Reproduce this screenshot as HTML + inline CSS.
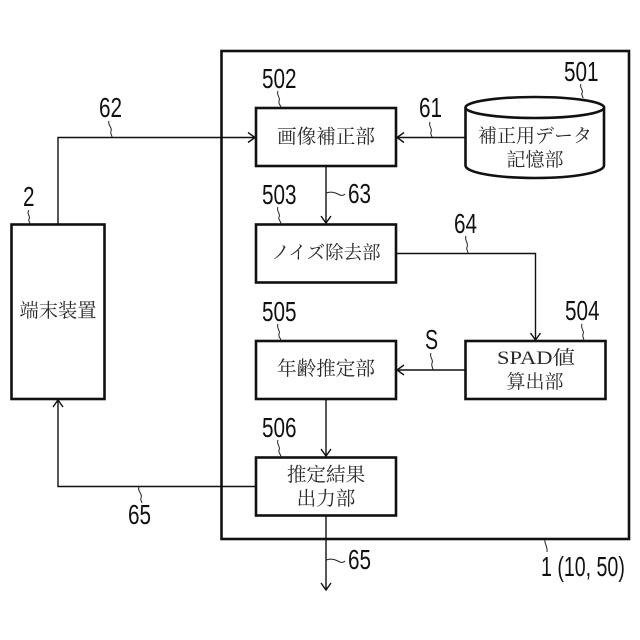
<!DOCTYPE html>
<html><head><meta charset="utf-8">
<style>
html,body{margin:0;padding:0;background:#fff}
svg{display:block}
.j{font-family:"Liberation Serif","Noto Serif CJK SC","Noto Serif CJK JP",serif;font-size:19px;fill:#2a2a2a;text-anchor:middle}
.n{font-family:"Liberation Sans",sans-serif;font-size:28px;fill:#111}
.b{fill:#fff;stroke:#111;stroke-width:2.6}
.l{fill:none;stroke:#111;stroke-width:1.4}
.w{fill:none;stroke:#222;stroke-width:1}
.a{fill:none;stroke:#111;stroke-width:1.4}
</style></head><body>
<svg width="640" height="640" viewBox="0 0 640 640" xmlns="http://www.w3.org/2000/svg">
<rect x="221.500" y="51" width="407.500" height="488" fill="#fff" stroke="#111" stroke-width="2.600"/>
<rect class="b" x="256" y="108" width="140" height="58"/>
<rect class="b" x="256" y="224.500" width="140" height="58"/>
<rect class="b" x="256" y="341" width="140" height="58"/>
<rect class="b" x="256" y="457.500" width="140" height="58"/>
<rect class="b" x="465.500" y="341" width="140" height="58"/>
<rect class="b" x="11.500" y="224.500" width="93" height="174.500"/>
<path class="b" d="M465.500 107.500V165.500C465.500 172.500 496 178 535 178S604 172.500 604 165.500V107.500"/>
<ellipse class="b" cx="534.800" cy="107.500" rx="69.300" ry="10.500"/>

<path class="l" d="M58 224V137.500H255"/><path class="a" d="M248 132.500L255 137.500L248 142.500"/>
<path class="l" d="M465 137.500H397"/><path class="a" d="M404 132.500L397 137.500L404 142.500"/>
<path class="l" d="M326 166V223"/><path class="a" d="M321 216L326 223L331 216"/>
<path class="l" d="M396 253.500H535.500V340"/><path class="a" d="M530.500 333L535.500 340L540.500 333"/>
<path class="l" d="M465 370H397"/><path class="a" d="M404 365L397 370L404 375"/>
<path class="l" d="M326 399V456"/><path class="a" d="M321 449L326 456L331 449"/>
<path class="l" d="M255 486.500H58V400"/><path class="a" d="M53 407L58 400L63 407"/>
<path class="l" d="M326 516V590"/><path class="a" d="M321 583L326 590L331 583"/>

<path class="w" d="M278 91C276 95 281 98 279 101C278 104 281 105 281 108"/>
<path class="w" d="M278 207C276 211 281 214 279 217C278 220 281 221 281 224"/>
<path class="w" d="M278 324C276 328 281 331 279 334C278 337 281 338 281 341"/>
<path class="w" d="M278 440C276 444 281 447 279 450C278 453 281 454 281 457"/>
<path class="w" d="M581 84C579 88 584 90 582 93C581 95 583 96 583 98"/>
<path class="w" d="M582 324C580 328 585 331 583 334C582 337 584 338 584 341"/>
<path class="w" d="M29 210C26 214 31 216 29 219C28 221 30 222 30 224"/>
<path class="w" d="M109 121C107 125 113 128 111 131C110 134 112 135 112 137"/>
<path class="w" d="M430 122C428 126 433 129 431 132C430 134 432 136 432 137"/>
<path class="w" d="M466 236C464 240 469 243 467 247C466 250 468 251 468 253"/>
<path class="w" d="M431 353C429 357 434 360 432 363C431 366 433 368 433 370"/>
<path class="w" d="M139 487C137 491 143 494 141 498C140 500 142 502 142 503"/>
<path class="w" d="M326 193C332 191 336 193 340 195C342 196 344 195 345 194"/>
<path class="w" d="M326 560C332 558 336 560 340 562C342 563 344 562 345 561"/>
<path class="w" d="M545 540C544 543 548 547 547 552"/>

<g class="j">
<text x="326" y="143" style="font-size:19.600px">画像補正部</text>
<text x="326" y="259" style="font-size:18.500px">ノイズ除去部</text>
<text x="326" y="375" style="font-size:19.600px">年齢推定部</text>
<text x="326" y="481" style="font-size:19.600px">推定結果</text>
<text x="326" y="505" style="font-size:19.600px">出力部</text>
<text x="535" y="142">補正用データ</text>
<text x="535" y="166">記憶部</text>
<text x="497" y="364" style="text-anchor:start" textLength="78" lengthAdjust="spacingAndGlyphs">SPAD値</text>
<text x="535" y="388">算出部</text>
<text x="58" y="317" style="font-size:19.300px">端末装置</text>
</g>

<g class="n">
<text transform="translate(262,88) scale(.74,1)">502</text>
<text transform="translate(262,204) scale(.74,1)">503</text>
<text transform="translate(262,321) scale(.74,1)">505</text>
<text transform="translate(262,437) scale(.74,1)">506</text>
<text transform="translate(564,81) scale(.74,1)">501</text>
<text transform="translate(565,320) scale(.74,1)">504</text>
<text transform="translate(23,206) scale(.74,1)">2</text>
<text transform="translate(99,117) scale(.74,1)">62</text>
<text transform="translate(419,117) scale(.74,1)">61</text>
<text transform="translate(348,203) scale(.74,1)">63</text>
<text transform="translate(454,233) scale(.74,1)">64</text>
<text transform="translate(425,349) scale(.70,1)">S</text>
<text transform="translate(128,524) scale(.74,1)">65</text>
<text transform="translate(348,569) scale(.74,1)">65</text>
<text transform="translate(541,576) scale(.70,1)">1 (10, 50)</text>
</g>
</svg>
</body></html>
